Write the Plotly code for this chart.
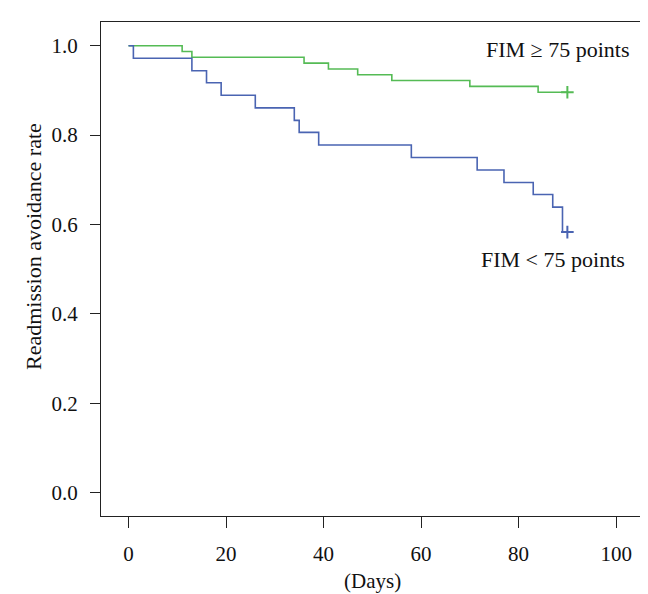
import plotly.graph_objects as go

# Green group: FIM >= 75 points
hi_days = [0, 11, 13, 36, 41, 47, 54, 70, 84, 90]
hi_rate = [1.0, 0.987, 0.974, 0.961, 0.948, 0.935, 0.922, 0.909, 0.896, 0.896]

# Blue group: FIM < 75 points
lo_days = [0, 1, 13, 16, 19, 26, 34, 35, 39, 58, 71.5, 77, 83, 87, 89, 90]
lo_rate = [1.0, 0.972, 0.944, 0.917, 0.889, 0.861, 0.833, 0.806, 0.778, 0.750,
           0.722, 0.694, 0.667, 0.639, 0.583, 0.583]

x_ticks = [0, 20, 40, 60, 80, 100]
y_ticks = [0.0, 0.2, 0.4, 0.6, 0.8, 1.0]

GREEN = "#55bb55"
BLUE = "#4a64b2"
FONT = "Liberation Serif"
TXT = "#111111"

L, R, T, B = 93, 15, 14, 86
W, H = 648, 594
PW, PH = W - L - R, H - T - B


def px(xp):
    return (xp - L) / PW


def py(yp):
    return (H - B - yp) / PH


fig = go.Figure()
fig.add_trace(go.Scatter(x=hi_days, y=hi_rate, mode="lines",
                         line=dict(color=GREEN, width=1.6, shape="hv"),
                         showlegend=False, hoverinfo="skip"))
fig.add_trace(go.Scatter(x=lo_days, y=lo_rate, mode="lines",
                         line=dict(color=BLUE, width=1.6, shape="hv"),
                         showlegend=False, hoverinfo="skip"))
fig.add_trace(go.Scatter(x=[hi_days[-1]], y=[hi_rate[-1]], mode="markers",
                         marker=dict(symbol="cross-thin", size=9,
                                     line=dict(color=GREEN, width=2)),
                         showlegend=False, hoverinfo="skip"))
fig.add_trace(go.Scatter(x=[lo_days[-1]], y=[lo_rate[-1]], mode="markers",
                         marker=dict(symbol="cross-thin", size=9,
                                     line=dict(color=BLUE, width=2)),
                         showlegend=False, hoverinfo="skip"))

fig.update_layout(
    width=W, height=H,
    margin=dict(l=L, r=R, t=T, b=B),
    paper_bgcolor="white", plot_bgcolor="white",
    font=dict(family=FONT, size=21, color=TXT),
    xaxis=dict(range=[-5.64, 105.1], tickvals=x_ticks, ticktext=[str(v) for v in x_ticks],
               ticks="outside", ticklen=11, tickwidth=1.3, tickcolor="#222",
               ticklabelstandoff=8,
               showline=True, linecolor="#222", linewidth=1.3, mirror=True,
               showgrid=False, zeroline=False, automargin=False),
    yaxis=dict(range=[-0.052, 1.053], tickvals=y_ticks, ticktext=[f"{v:.1f}" for v in y_ticks],
               ticks="outside", ticklen=10, tickwidth=1.3, tickcolor="#222",
               ticklabelstandoff=8,
               showline=True, linecolor="#222", linewidth=1.3, mirror=True,
               showgrid=False, zeroline=False, automargin=False),
)

fig.add_annotation(x=px(25), y=py(239), xref="paper", yref="paper",
                   text="Readmission avoidance rate", textangle=-90,
                   showarrow=False, xanchor="center", yanchor="middle",
                   font=dict(family=FONT, size=22, color=TXT))
fig.add_annotation(x=px(364), y=py(573), xref="paper", yref="paper",
                   text="(Days)", showarrow=False, xanchor="center", yanchor="middle",
                   font=dict(family=FONT, size=21, color=TXT))
fig.add_annotation(x=px(623), y=py(41), xref="paper", yref="paper",
                   text="FIM ≥ 75 points", showarrow=False,
                   xanchor="right", yanchor="middle",
                   font=dict(family=FONT, size=22, color=TXT))
fig.add_annotation(x=px(619), y=py(251), xref="paper", yref="paper",
                   text="FIM < 75 points", showarrow=False,
                   xanchor="right", yanchor="middle",
                   font=dict(family=FONT, size=22, color=TXT))

fig.write_html("out.html")
